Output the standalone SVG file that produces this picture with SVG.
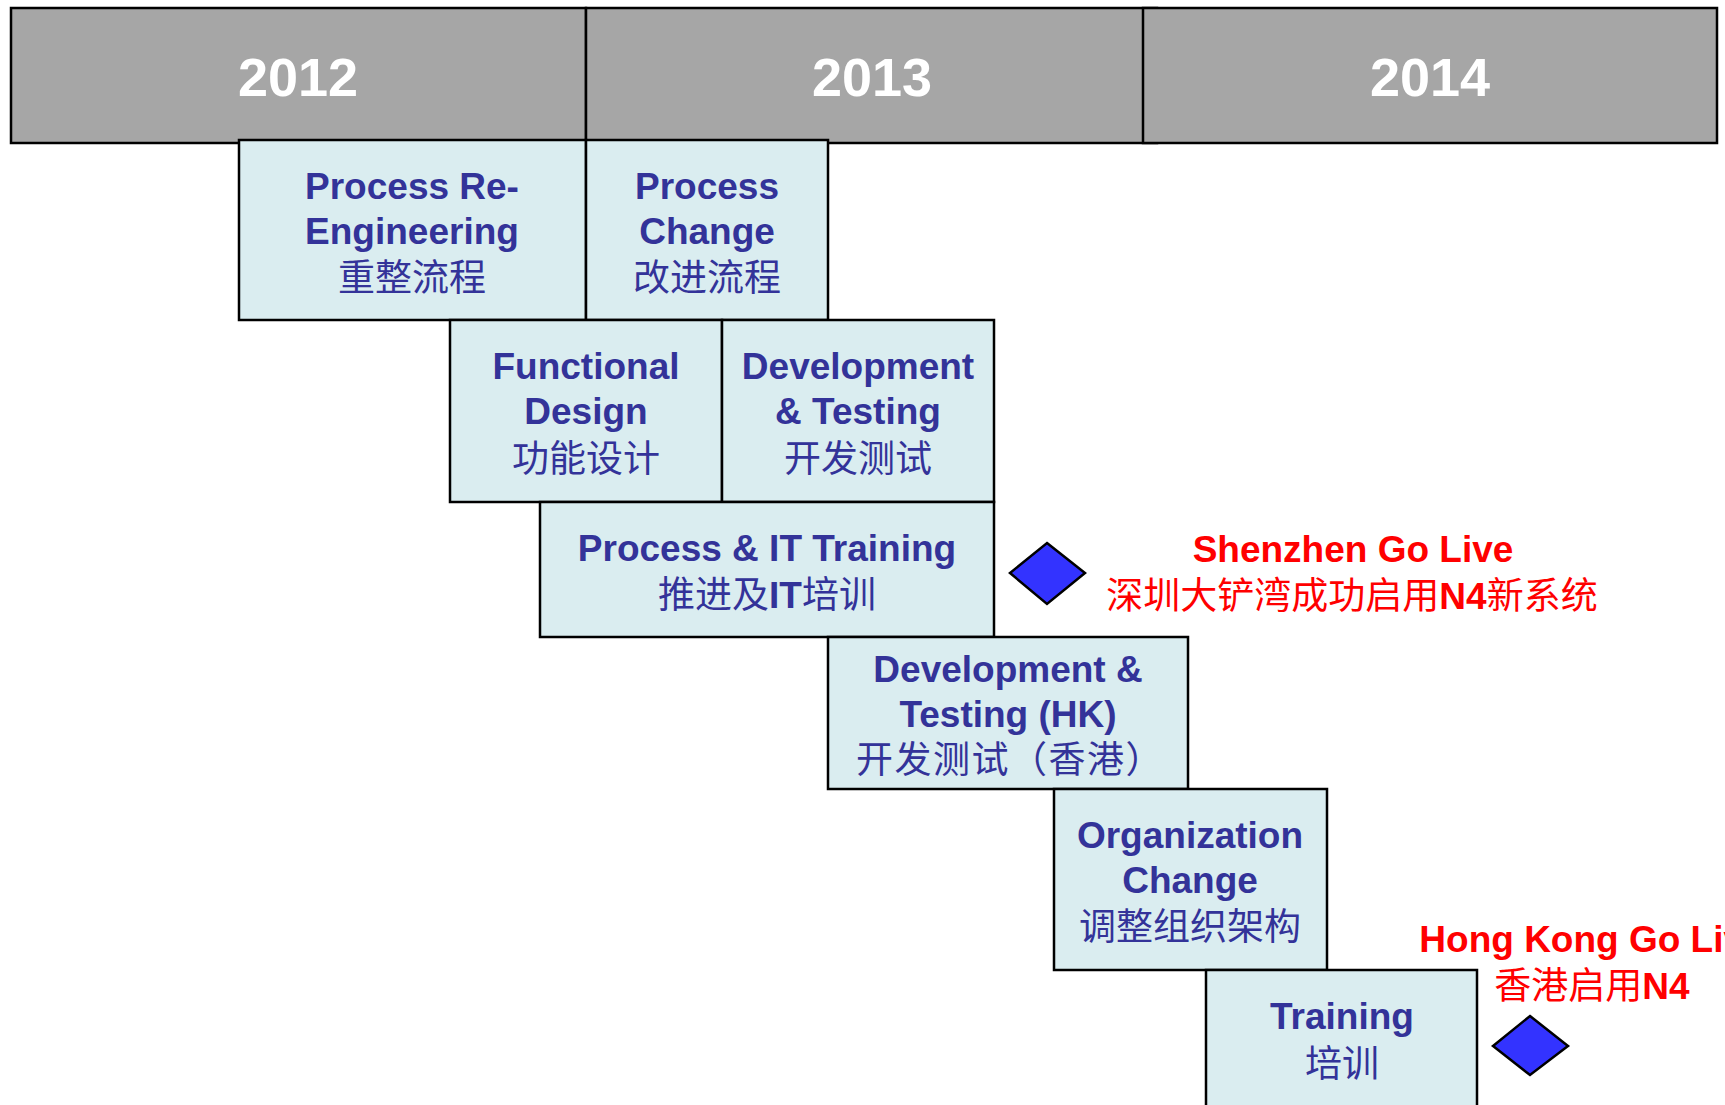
<svg xmlns="http://www.w3.org/2000/svg" width="1725" height="1105" viewBox="0 0 1725 1105">
<style>
.yr{fill:#A6A6A6;stroke:#000;stroke-width:2.5}
.yt{font-family:"Liberation Sans",Arial,sans-serif;font-weight:bold;font-size:54px;fill:#fff;text-anchor:middle}
.box{fill:#DAEDF0;stroke:#000;stroke-width:2.5}
.en{font-family:"Liberation Sans",Arial,"Noto Sans CJK SC",sans-serif;font-weight:bold;font-size:37px;fill:#333399;text-anchor:middle}
.cn{font-family:"Liberation Sans",Arial,"Noto Sans CJK SC",sans-serif;font-weight:normal;font-size:37px;fill:#333399;text-anchor:middle}
.b{font-weight:bold}
.ren{font-family:"Liberation Sans",Arial,"Noto Sans CJK SC",sans-serif;font-weight:bold;font-size:37px;fill:#FF0000;text-anchor:middle}
.rcn{font-family:"Liberation Sans",Arial,"Noto Sans CJK SC",sans-serif;font-weight:normal;font-size:37px;fill:#FF0000;text-anchor:middle}
.dia{fill:#3333FF;stroke:#000;stroke-width:2.5;stroke-linejoin:miter}
</style>
<rect width="1725" height="1105" fill="#fff"/>
<g id="years">
<g id="y2012"><rect class="yr" x="11" y="8" width="575" height="135"/><text class="yt" x="298" y="96">2012</text></g>
<g id="y2013"><rect class="yr" x="586" y="8" width="571" height="135"/><text class="yt" x="872" y="96">2013</text></g>
<g id="y2014"><rect class="yr" x="1143" y="8" width="574" height="135"/><text class="yt" x="1430" y="96">2014</text></g>
</g>
<g id="n1"><rect class="box" x="239" y="140" width="347" height="180"/>
<text class="en" x="412" y="199">Process Re-</text><text class="en" x="412" y="244">Engineering</text><text class="cn" x="412" y="291">重整流程</text></g>
<g id="n2"><rect class="box" x="586" y="140" width="242" height="180"/>
<text class="en" x="707" y="199">Process</text><text class="en" x="707" y="244">Change</text><text class="cn" x="707" y="291">改进流程</text></g>
<g id="n3"><rect class="box" x="450" y="320" width="272" height="182"/>
<text class="en" x="586" y="379">Functional</text><text class="en" x="586" y="424">Design</text><text class="cn" x="586" y="472">功能设计</text></g>
<g id="n4"><rect class="box" x="722" y="320" width="272" height="182"/>
<text class="en" x="858" y="379">Development</text><text class="en" x="858" y="424">&amp; Testing</text><text class="cn" x="858" y="472">开发测试</text></g>
<g id="n5"><rect class="box" x="540" y="502" width="454" height="135"/>
<text class="en" x="767" y="561">Process &amp; IT Training</text><text class="cn" x="767" y="608">推进及<tspan class="b">IT</tspan>培训</text></g>
<g id="n6"><rect class="box" x="828" y="637" width="360" height="152"/>
<text class="en" x="1008" y="682">Development &amp;</text><text class="en" x="1008" y="727">Testing (HK)</text><text class="cn" x="1010" y="773" letter-spacing="1.5">开发测试（香港）</text></g>
<g id="n7"><rect class="box" x="1054" y="789" width="273" height="181"/>
<text class="en" x="1190" y="848">Organization</text><text class="en" x="1190" y="893">Change</text><text class="cn" x="1190" y="940">调整组织架构</text></g>
<g id="n8"><rect class="box" x="1206" y="970" width="271" height="145"/>
<text class="en" x="1342" y="1029">Training</text><text class="cn" x="1342" y="1077">培训</text></g>
<g id="m1"><polygon class="dia" points="1047,543 1085,573 1047,604 1010,573"/>
<text class="ren" x="1353" y="562">Shenzhen Go Live</text><text class="rcn" x="1352" y="609">深圳大铲湾成功启用<tspan class="b">N4</tspan>新系统</text></g>
<g id="m2"><polygon class="dia" points="1530,1016 1568,1046 1530,1075 1493,1046"/>
<text class="ren" x="1592" y="952">Hong Kong Go Live</text><text class="rcn" x="1592" y="999">香港启用<tspan class="b">N4</tspan></text></g>
<g id="connectors"/>
</svg>
